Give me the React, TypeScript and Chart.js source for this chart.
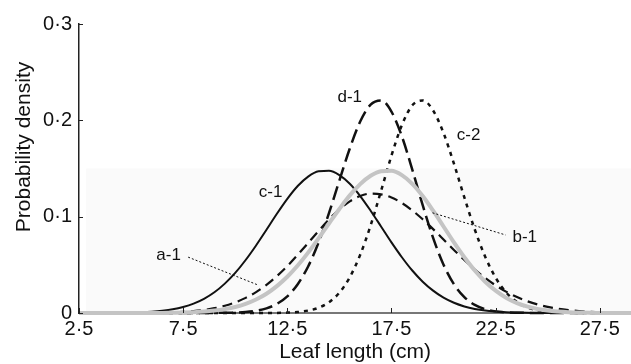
import React, { useEffect, useRef } from 'react';
import { Chart, registerables } from 'chart.js';

Chart.register(...registerables);

// Leaf length (cm) sample positions
const xValues = [2.5, 3, 3.5, 4, 4.5, 5, 5.5, 6, 6.5, 7, 7.5, 8, 8.5, 9, 9.5, 10, 10.5, 11, 11.5, 12, 12.5, 13, 13.5, 14, 14.5, 15, 15.5, 16, 16.5, 17, 17.5, 18, 18.5, 19, 19.5, 20, 20.5, 21, 21.5, 22, 22.5, 23, 23.5, 24, 24.5, 25, 25.5, 26, 26.5, 27, 27.5, 28, 28.5, 29];

const seriesC1 = [0, 0, 0, 0.0001, 0.0002, 0.0004, 0.0007, 0.0013, 0.0023, 0.0038, 0.0062, 0.0097, 0.0147, 0.0215, 0.0305, 0.0416, 0.055, 0.0701, 0.0864, 0.103, 0.1185, 0.1318, 0.1416, 0.1471, 0.1476, 0.1431, 0.1341, 0.1214, 0.1062, 0.0898, 0.0733, 0.0579, 0.0441, 0.0325, 0.0232, 0.0159, 0.0106, 0.0068, 0.0042, 0.0025, 0.0015, 0.0008, 0.0004, 0.0002, 0.0001, 0, 0, 0, 0, 0, 0, 0, 0, 0];

const seriesB1 = [0, 0, 0, 0, 0, 0, 0, 0.0001, 0.0001, 0.0003, 0.0005, 0.0009, 0.0015, 0.0025, 0.004, 0.0062, 0.0095, 0.014, 0.02, 0.0279, 0.0376, 0.0493, 0.0627, 0.0775, 0.0929, 0.108, 0.1221, 0.1338, 0.1425, 0.1472, 0.1476, 0.1431, 0.1341, 0.1214, 0.1062, 0.0898, 0.0733, 0.0579, 0.0441, 0.0325, 0.0232, 0.0159, 0.0106, 0.0068, 0.0042, 0.0025, 0.0015, 0.0008, 0.0004, 0.0002, 0.0001, 0, 0, 0];

const seriesA1 = [0, 0, 0, 0, 0, 0.0001, 0.0001, 0.0002, 0.0004, 0.0007, 0.0012, 0.002, 0.0032, 0.005, 0.0075, 0.011, 0.0157, 0.0217, 0.0292, 0.0383, 0.0487, 0.0604, 0.0727, 0.0852, 0.0971, 0.1076, 0.1159, 0.1215, 0.1239, 0.1232, 0.1199, 0.1142, 0.1065, 0.0973, 0.0871, 0.0763, 0.0654, 0.055, 0.0452, 0.0364, 0.0287, 0.0222, 0.0168, 0.0124, 0.009, 0.0064, 0.0044, 0.003, 0.002, 0.0013, 0.0008, 0.0005, 0.0003, 0.0002];

const seriesD1 = [0, 0, 0, 0, 0, 0, 0, 0, 0, 0, 0, 0, 0, 0.0001, 0.0002, 0.0004, 0.001, 0.0023, 0.0048, 0.0094, 0.0173, 0.0299, 0.0483, 0.0731, 0.1036, 0.1375, 0.1708, 0.1987, 0.2164, 0.2207, 0.2091, 0.1834, 0.1489, 0.1119, 0.0779, 0.0502, 0.0299, 0.0165, 0.0084, 0.004, 0.0017, 0.0007, 0.0003, 0.0001, 0, 0, 0, 0, 0, 0, 0, 0, 0, 0];

const seriesC2 = [0, 0, 0, 0, 0, 0, 0, 0, 0, 0, 0, 0, 0, 0, 0, 0, 0, 0, 0, 0.0001, 0.0004, 0.001, 0.0025, 0.0054, 0.0111, 0.0211, 0.0371, 0.0604, 0.0909, 0.1266, 0.1633, 0.195, 0.2156, 0.2207, 0.2102, 0.1869, 0.155, 0.12, 0.0867, 0.0584, 0.0367, 0.0215, 0.0118, 0.006, 0.0029, 0.0013, 0.0005, 0.0002, 0.0001, 0, 0, 0, 0, 0];

const xTicks = [2.5, 7.5, 12.5, 17.5, 22.5, 27.5];
const yTicks = [0, 0.1, 0.2, 0.3];
const xMin = 2.5;
const xMax = 29;
const yMin = 0;
const yMax = 0.3;

const xTitle = 'Leaf length (cm)';
const yTitle = 'Probability density';

// curve labels [text, x, y] in data units
const curveLabels: [string, number, number][] = [
  ['c-1', 11.7, 0.125],
  ['d-1', 15.5, 0.224],
  ['c-2', 21.2, 0.184],
  ['b-1', 23.9, 0.079],
  ['a-1', 6.8, 0.06],
];

// leader lines [x0, y0, x1, y1] in data units
const leaderA1 = [7.74, 0.058, 11.1, 0.029];
const leaderB1 = [19.47, 0.104, 22.98, 0.081];

// faint shaded band [xStart, yTop]
const shadeBand = [2.84, 0.15];

const FONT = '"Liberation Sans", Arial, Helvetica, sans-serif';

const fmt = (v: number) => (v === 0 ? '0' : String(v).replace('.', '\u00B7'));

const pts = (ys: number[]) => xValues.map((x, i) => ({ x, y: ys[i] }));

export default function App() {
  const ref = useRef<HTMLCanvasElement | null>(null);

  useEffect(() => {
    if (!ref.current) return;

    const decor = {
      id: 'decor',
      beforeDatasetsDraw(chart: any) {
        const { ctx, chartArea, scales } = chart;
        const x = scales.x;
        const y = scales.y;
        ctx.save();
        ctx.fillStyle = '#fafafa';
        const l = x.getPixelForValue(shadeBand[0]);
        const t = y.getPixelForValue(shadeBand[1]);
        const b = y.getPixelForValue(0);
        ctx.fillRect(l, t, chartArea.right - l, b - t - 1);
        ctx.restore();
      },
      afterDatasetsDraw(chart: any) {
        const { ctx, chartArea, scales } = chart;
        const x = scales.x;
        const y = scales.y;
        ctx.save();
        // inward ticks
        ctx.strokeStyle = '#222';
        ctx.lineWidth = 1;
        ctx.beginPath();
        yTicks.forEach((v) => {
          const py = Math.round(y.getPixelForValue(v)) + 0.5;
          ctx.moveTo(chartArea.left, py);
          ctx.lineTo(chartArea.left + 4, py);
        });
        xTicks.forEach((v) => {
          const px = Math.round(x.getPixelForValue(v)) + 0.5;
          ctx.moveTo(px, chartArea.bottom);
          ctx.lineTo(px, chartArea.bottom - 5);
        });
        ctx.stroke();

        // leader lines
        ctx.setLineDash([2, 2]);
        ctx.lineWidth = 1;
        ctx.strokeStyle = '#111';
        [leaderA1, leaderB1].forEach((ln) => {
          ctx.beginPath();
          ctx.moveTo(x.getPixelForValue(ln[0]), y.getPixelForValue(ln[1]));
          ctx.lineTo(x.getPixelForValue(ln[2]), y.getPixelForValue(ln[3]));
          ctx.stroke();
        });
        ctx.setLineDash([]);

        // curve labels
        ctx.fillStyle = '#111';
        ctx.font = '17px ' + FONT;
        ctx.textAlign = 'center';
        ctx.textBaseline = 'middle';
        curveLabels.forEach(([t, vx, vy]) => {
          ctx.fillText(t, x.getPixelForValue(vx), y.getPixelForValue(vy));
        });

        // axis titles
        ctx.font = '21px ' + FONT;
        ctx.fillText(xTitle, (chartArea.left + chartArea.right) / 2, 352);
        ctx.translate(24, 147);
        ctx.rotate(-Math.PI / 2);
        ctx.fillText(yTitle, 0, 0);
        ctx.restore();
      },
    };

    const common = {
      pointRadius: 0,
      fill: false,
      cubicInterpolationMode: 'monotone' as const,
      clip: 6,
    };

    const chart = new Chart(ref.current, {
      type: 'line',
      data: {
        datasets: [
          { ...common, label: 'b-1', data: pts(seriesB1), borderColor: '#c4c4c4', borderWidth: 4 },
          { ...common, label: 'c-1', data: pts(seriesC1), borderColor: '#111', borderWidth: 2 },
          { ...common, label: 'a-1', data: pts(seriesA1), borderColor: '#111', borderWidth: 2.2, borderDash: [10, 6] },
          { ...common, label: 'd-1', data: pts(seriesD1), borderColor: '#111', borderWidth: 2.5, borderDash: [14, 6] },
          { ...common, label: 'c-2', data: pts(seriesC2), borderColor: '#111', borderWidth: 2.5, borderDash: [4, 5] },
        ],
      },
      options: {
        responsive: false,
        animation: false,
        layout: { padding: { top: 24, right: 0, left: 0, bottom: 0 } },
        plugins: { legend: { display: false }, tooltip: { enabled: false } },
        scales: {
          x: {
            type: 'linear',
            min: xMin,
            max: xMax,
            afterBuildTicks: (s: any) => {
              s.ticks = xTicks.map((v) => ({ value: v }));
            },
            afterFit: (s: any) => {
              s.height = 51;
            },
            grid: { display: false, drawTicks: false },
            border: { display: true, color: '#777', width: 2 },
            ticks: {
              autoSkip: false,
              maxRotation: 0,
              padding: 4,
              color: '#111',
              font: { family: FONT, size: 20 },
              callback: (v: any) => fmt(Number(v)),
            },
          },
          y: {
            type: 'linear',
            min: yMin,
            max: yMax,
            afterBuildTicks: (s: any) => {
              s.ticks = yTicks.map((v) => ({ value: v }));
            },
            afterFit: (s: any) => {
              s.width = 79;
            },
            grid: { display: false, drawTicks: false },
            border: { display: true, color: '#222', width: 1.5 },
            ticks: {
              padding: 7,
              color: '#111',
              font: { family: FONT, size: 20 },
              callback: (v: any) => fmt(Number(v)),
            },
          },
        },
      },
      plugins: [decor],
    });

    return () => chart.destroy();
  }, []);

  return (
    <div style={{ position: 'absolute', left: 0, top: 0, width: 631, height: 364, background: '#fff' }}>
      <canvas ref={ref} width={631} height={364} style={{ display: 'block', width: 631, height: 364 }} />
    </div>
  );
}
